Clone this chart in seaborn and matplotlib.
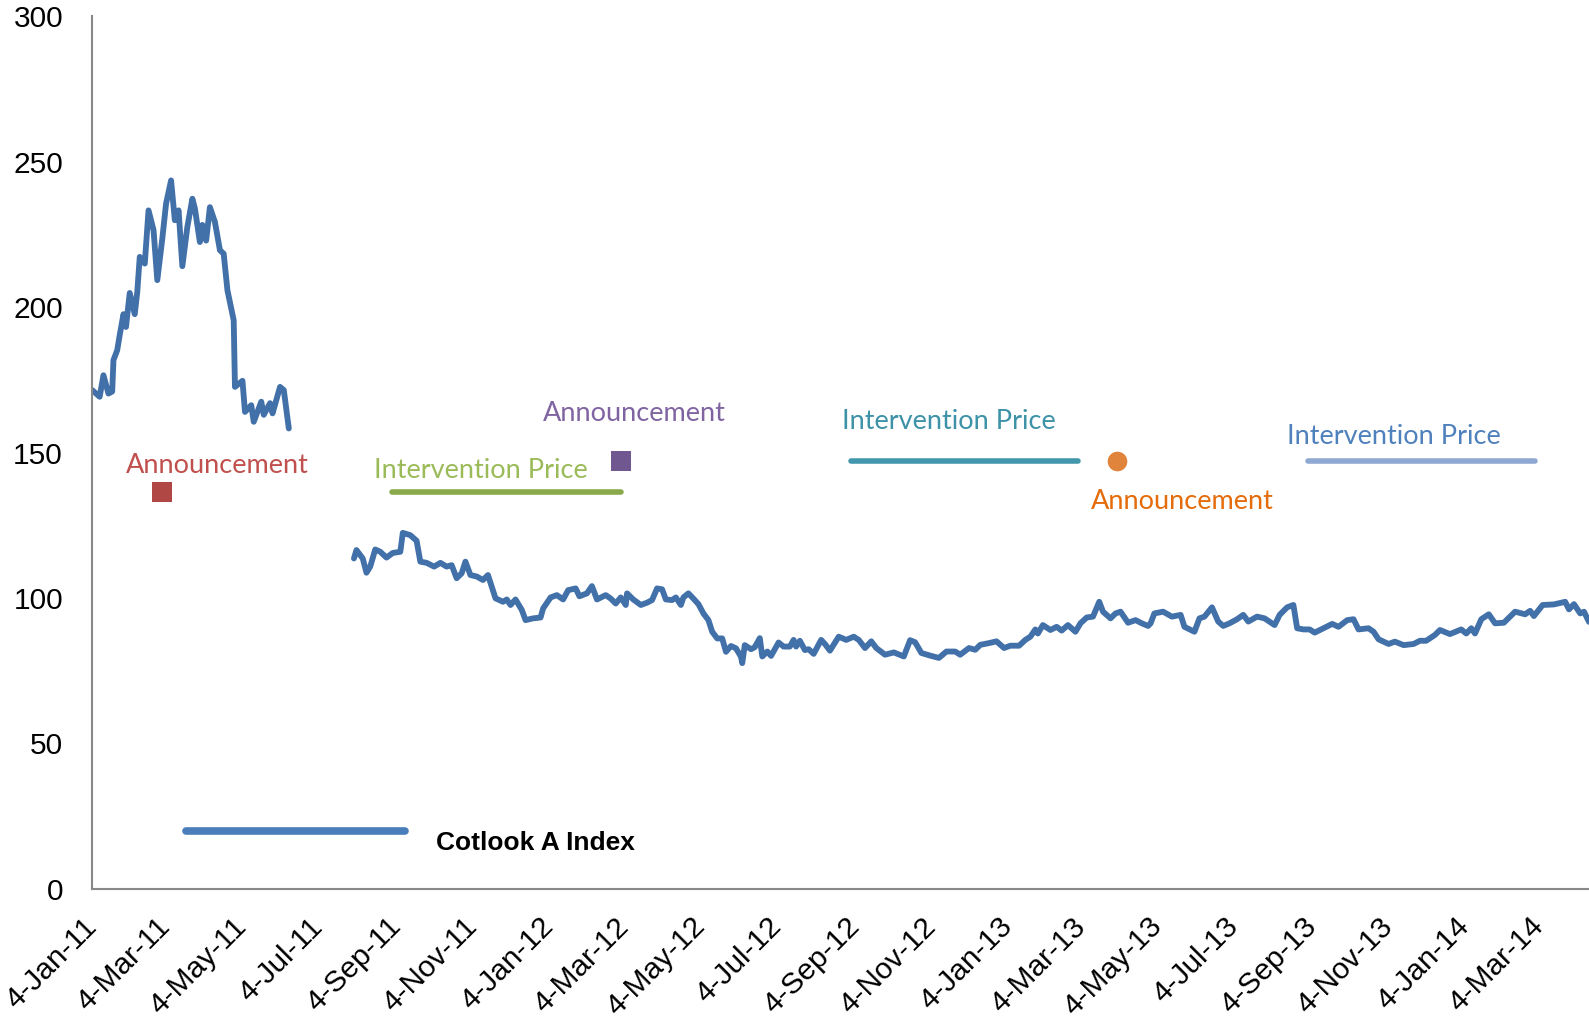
import numpy as np
import matplotlib
matplotlib.use("Agg")
import matplotlib.pyplot as plt
from matplotlib.lines import Line2D
import pandas as pd
import seaborn as sns

sns.set_theme(style="white")
plt.rcParams['font.family'] = ['Liberation Sans', 'DejaVu Sans']

# Cotlook A Index (days after 4-Jan-11, index value)
early_days = [0, 6, 9, 13, 16, 17, 20, 22, 25, 27, 30, 34, 36, 38, 42, 45, 49, 52, 56, 59,
              63, 66, 69, 72, 76, 80, 82, 86, 88, 91, 94, 98, 102, 105, 108, 113, 114, 120, 122, 127,
              129, 135, 137, 142, 144, 150, 153, 157]
early_vals = [171.5, 169.2, 176.6, 170.3, 171.0, 181.8, 185.2, 190.4, 197.6, 193.2,
              204.9, 197.6, 205.2, 217.3, 215.0, 233.3, 226.5, 209.3, 223.6, 235.6,
              243.6, 229.9, 233.3, 214.1, 227.6, 237.3, 234.0, 222.4, 228.3, 222.9,
              234.4, 229.3, 219.6, 218.4, 205.8, 195.5, 172.6, 174.7, 164.0, 166.3,
              160.6, 167.5, 163.0, 167.0, 163.5, 172.6, 171.5, 158.3]

late_days = [209, 211, 216, 219, 222, 226, 230, 235, 240, 246, 248, 254, 259, 262, 267, 273, 278, 283, 287, 291,
             295, 298, 302, 307, 312, 316, 322, 328, 331, 334, 338, 343, 346, 352, 358, 360, 366, 371, 376, 380,
             386, 389, 395, 399, 403, 410, 414, 418, 422, 426, 427, 432, 438, 443, 447, 451, 455, 458, 463, 466,
             470, 472, 476, 480, 484, 488, 492, 495, 499, 503, 506, 510, 514, 518,
             519, 521, 526, 529, 533, 535, 539, 542, 548, 552, 557, 560, 562, 565, 569, 572, 576, 582, 585, 589,
             596, 602, 608, 612, 617, 622, 626, 633, 640, 648, 653, 657, 662, 669, 676, 682, 689, 693, 700, 705,
             709, 716, 722, 728, 733, 740, 745, 749, 753, 755, 759, 765, 770, 774, 779, 785, 789, 794, 799, 804,
             807, 813, 817, 821, 827, 833, 838, 843,
             845, 848, 855, 862, 869, 872, 880, 884, 888, 894, 899, 903, 908, 914, 919, 923, 930, 936, 944, 948,
             954, 959, 962, 967, 972, 976, 983, 990, 995, 1002, 1007, 1011, 1019, 1023, 1027, 1035, 1040, 1047, 1055, 1060,
             1065, 1072, 1076, 1084, 1093, 1097, 1101, 1104, 1109, 1115, 1120, 1127, 1136, 1144, 1148, 1151, 1158, 1167, 1176, 1179,
             1183, 1188, 1191, 1195]
late_vals = [113.6, 116.5, 113.6, 108.7, 110.8, 116.7, 115.9, 113.9, 115.5, 115.9,
             122.4, 121.6, 119.7, 112.5, 112.1, 110.8, 112.1, 110.8, 111.3, 106.8,
             108.5, 112.5, 107.9, 107.4, 106.2, 107.9, 99.9, 98.7, 99.5, 97.6,
             99.5, 95.9, 92.4, 93.0, 93.3, 96.4, 100.2, 101.0, 99.5, 102.7,
             103.3, 100.6, 101.6, 104.1, 99.5, 101.0, 99.8, 98.1, 100.2, 97.6,
             101.6, 99.5, 97.6, 98.4, 99.3, 103.3, 103.0, 99.5, 99.3, 100.2,
             97.6, 100.2, 101.6, 99.8, 97.9, 94.7, 92.4, 88.4, 86.1, 86.1,
             81.5, 83.5, 82.7, 79.8,
             77.6, 83.8, 82.4, 83.1, 86.2, 79.9, 81.6, 80.1, 84.7, 83.3,
             83.3, 85.6, 83.3, 85.3, 82.1, 82.4, 80.8, 85.6, 84.2, 81.9,
             86.7, 85.6, 86.7, 85.6, 82.8, 85.1, 82.8, 80.5, 81.3, 79.9,
             85.5, 84.8, 81.1, 80.2, 79.4, 81.6, 81.6, 80.5, 82.8, 82.2,
             83.9, 84.5, 85.1, 82.8, 83.6, 83.6, 85.6, 86.7, 89.2, 87.8,
             90.7, 89.0, 90.1, 88.8, 90.7, 88.4, 91.3, 93.3, 93.6, 98.7,
             95.3, 93.0, 94.7, 95.3, 91.5, 92.4, 91.3, 90.4,
             91.3, 94.7, 95.3, 93.6, 94.2, 90.1, 88.4, 93.0, 93.6, 96.8,
             91.9, 90.4, 91.3, 92.7, 94.2, 91.9, 93.6, 93.0, 90.7, 94.2,
             96.8, 97.6, 89.6, 89.2, 89.2, 88.1, 89.6, 91.1, 90.1, 92.4,
             92.7, 89.2, 89.6, 88.4, 85.8, 84.2, 85.0, 83.8, 84.2, 85.3,
             85.3, 87.3, 89.0, 87.6, 89.2, 87.8, 89.6, 87.8, 92.7, 94.4,
             91.3, 91.5, 95.3, 94.4, 95.6, 93.8, 97.6, 97.8, 98.7, 96.1,
             97.9, 94.7, 95.3, 91.8]

tick_labels = ['4-Jan-11', '4-Mar-11', '4-May-11', '4-Jul-11', '4-Sep-11', '4-Nov-11',
               '4-Jan-12', '4-Mar-12', '4-May-12', '4-Jul-12', '4-Sep-12', '4-Nov-12',
               '4-Jan-13', '4-Mar-13', '4-May-13', '4-Jul-13', '4-Sep-13', '4-Nov-13',
               '4-Jan-14', '4-Mar-14']

# announcements and intervention price periods
ann_dates = ['2011-03-01', '2012-03-01', '2013-04-01']
ann_vals = [136.4, 147, 147]
ann_colors = ['#b14745', '#71578f', '#e0843c']
ann_markers = ['s', 's', 'o']
ann_text_colors = ['#c0504d', '#8064a2', '#e46c0a']
ann_text_pos = [('2011-04-14', 145.4), ('2012-03-12', 163.4), ('2013-05-23', 133.1)]

ip_starts = ['2011-08-31', '2012-09-01', '2013-09-01']
ip_ends = ['2012-03-01', '2013-03-01', '2014-03-01']
ip_vals = [136.4, 147, 147]
ip_colors = ['#8aa94c', '#4297ad', '#8ea8d1']
ip_text_colors = ['#9bbb59', '#3d92a8', '#4f81bd']
ip_text_pos = [('2011-11-10', 144), ('2012-11-18', 160.6), ('2013-11-08', 155.7)]

start = pd.Timestamp('2011-01-04')
early = pd.DataFrame({'Date': start + pd.to_timedelta(early_days, unit='D'), 'Index': early_vals})
late = pd.DataFrame({'Date': start + pd.to_timedelta(late_days, unit='D'), 'Index': late_vals})

line_color = '#4270a9'

fig = plt.figure(figsize=(15.89, 10.24), dpi=100)
ax = fig.add_axes([0.058, 0.132, 0.942, 0.852])

for seg in (early, late):
    sns.lineplot(data=seg, x='Date', y='Index', color=line_color, lw=4.2,
                 estimator=None, sort=False, ax=ax)

for s, e, v, c in zip(ip_starts, ip_ends, ip_vals, ip_colors):
    ax.plot(pd.to_datetime([s, e]), [v, v], color=c, lw=4, solid_capstyle='round')

for d, v, c, m in zip(ann_dates, ann_vals, ann_colors, ann_markers):
    ax.scatter(pd.to_datetime([d]), [v], color=c, marker=m, s=200, zorder=3, linewidths=0)

for (d, v), c in zip(ann_text_pos, ann_text_colors):
    ax.text(pd.Timestamp(d), v, 'Announcement', color=c, fontsize=19.5,
            family=['Lato', 'DejaVu Sans'], ha='center', va='center')
for (d, v), c in zip(ip_text_pos, ip_text_colors):
    ax.text(pd.Timestamp(d), v, 'Intervention Price', color=c, fontsize=19.5,
            family=['Lato', 'DejaVu Sans'], ha='center', va='center')

ax.set_xlim(start, start + pd.Timedelta(days=1195))
ax.set_ylim(0, 300)
ax.set_yticks(np.arange(0, 301, 50))
ax.set_xticks(pd.to_datetime(tick_labels, format='%d-%b-%y'))
ax.set_xticklabels(tick_labels, rotation=45, ha='right', va='center', rotation_mode='anchor')
ax.set_xlabel('')
ax.set_ylabel('')

ax.tick_params(axis='both', direction='out', length=8, width=1.5, colors='#888888',
               labelcolor='black', labelsize=21.5)
ax.tick_params(axis='y', pad=13)
ax.tick_params(axis='x', pad=16)
for side in ['top', 'right']:
    ax.spines[side].set_visible(False)
for side in ['left', 'bottom']:
    ax.spines[side].set_color('#888888')
    ax.spines[side].set_linewidth(1.5)
ax.grid(False)

handle = Line2D([], [], color='#4a7ebb', lw=5.5)
leg = ax.legend([handle], ['Cotlook A Index'], loc='center left', bbox_to_anchor=(0.063, 0.064),
                frameon=False, borderpad=0, borderaxespad=0, handlelength=8.3, handletextpad=1.15,
                labelcolor='black',
                prop={'family': ['Liberation Sans Narrow', 'Liberation Sans'], 'weight': 'bold', 'size': 19})
# label sits a little below the sample line in the original
leg.get_texts()[0].set_y(-10)

fig.savefig('out.png', dpi=100)
